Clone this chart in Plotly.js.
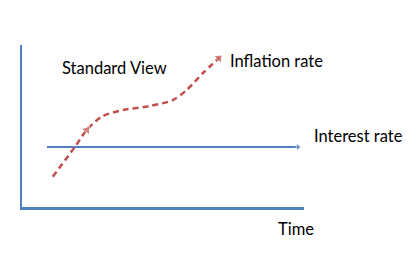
<!DOCTYPE html>
<html><head><meta charset="utf-8">
<script src="https://cdn.plot.ly/plotly-3.0.1.min.js"></script>
<style>html,body{margin:0;padding:0;background:#fff}#chart{width:419px;height:270px}</style>
</head><body><div id="chart"></div>
<script>
// Conceptual time axis and rate values (schematic units)
const inflationTime = [30.7, 53, 64.7, 79.7, 101, 128, 151, 164.7, 181, 197];
const inflationRate = [30.3, 60.3, 77, 90.3, 97, 101, 107, 117, 134, 149];
const interestTime = [25, 276];
const interestRate = [60, 60];
const inflationArrowAt = [2, 9]; // indices carrying an arrowhead
const labels = ["Standard View", "Inflation rate", "Interest rate", "Time"];

const xRange = [0, 282], yRange = [0, 162];
const blue = "#4F81BD", red = "#C0504D";
const inflSizes = inflationTime.map((_, i) => inflationArrowAt.includes(i) ? 9 : 0);
const px = v => (v - xRange[0]) / (xRange[1] - xRange[0]);
const py = v => (v - yRange[0]) / (yRange[1] - yRange[0]);

const data = [
  {x: interestTime, y: interestRate, mode: "lines+markers", type: "scatter",
   line: {color: blue, width: 2},
   marker: {symbol: "triangle-up", angleref: "previous", size: [0, 7], color: blue},
   hoverinfo: "skip", cliponaxis: false},
  {x: inflationTime, y: inflationRate, mode: "lines+markers", type: "scatter",
   line: {color: red, width: 2.5, dash: "6px,4px", shape: "spline", smoothing: 0.8},
   marker: {symbol: "triangle-up", angleref: "previous", size: inflSizes, color: red},
   hoverinfo: "skip", cliponaxis: false}
];

const font = {family: "Lato, 'Open Sans', sans-serif", size: 16.5, color: "#000"};
const ann = (t, x, y) => ({text: t, x: px(x), y: py(y), xref: "paper", yref: "paper",
  xanchor: "left", yanchor: "middle", showarrow: false, font: font});
const layout = {
  width: 419, height: 270,
  margin: {l: 22, r: 115, t: 45, b: 63},
  paper_bgcolor: "#fff", plot_bgcolor: "#fff",
  showlegend: false,
  xaxis: {range: xRange, showgrid: false, zeroline: false, showticklabels: false, ticks: "",
          showline: true, linecolor: blue, linewidth: 2.5, fixedrange: true},
  yaxis: {range: yRange, showgrid: false, zeroline: false, showticklabels: false, ticks: "",
          showline: true, linecolor: blue, linewidth: 2.5, fixedrange: true},
  annotations: [
    ann(labels[0], 37.5, 139),
    ann(labels[1], 205.5, 146),
    ann(labels[2], 290, 71.5),
    ann(labels[3], 253.5, -22)
  ]
};
Plotly.newPlot("chart", data, layout, {staticPlot: true, displayModeBar: false});
</script></body></html>
